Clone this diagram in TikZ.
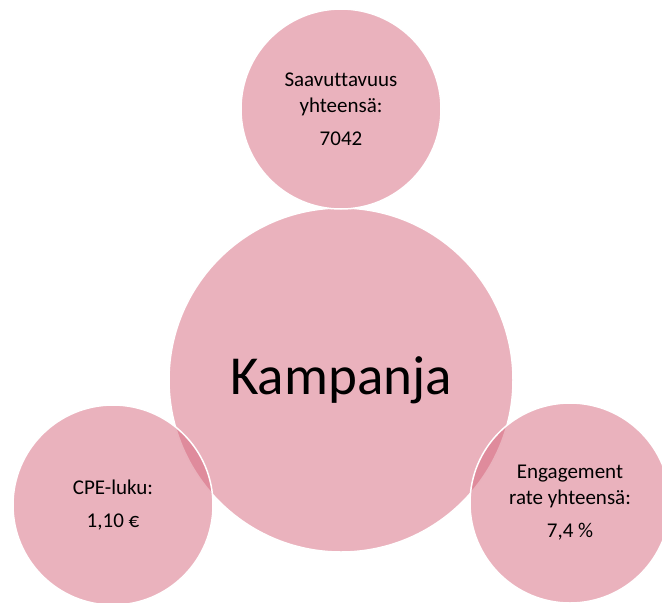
\documentclass[tikz,border=0pt]{standalone}
\usepackage{fontspec}
\setmainfont{Carlito}[Ligatures=NoCommon]
\definecolor{rosa}{RGB}{213,101,123}
\tikzset{
  bubble/.style={circle,inner sep=0pt,fill=rosa,fill opacity=.5,text opacity=1,
    draw=white,line width=1.5pt,align=center,text=black},
  small/.style={font=\fontsize{21}{26}\selectfont}
}

\begin{document}
\begin{tikzpicture}[x=1pt,y=-1pt]
\useasboundingbox (0,0) rectangle (662,603);
% keskimmainen ympyra
\node[bubble,minimum size=344pt,font=\fontsize{55}{60}\selectfont] (kampanja) at (341,380) {Kampanja};
% tulokset
\node[bubble,small,minimum size=200pt] (saavutus) at (341,109) {Saavuttavuus\\yhteensä:\\[7pt]7042};
\node[bubble,small,minimum size=200pt] (cpe) at (113,505) {CPE-luku:\\[7pt]1,10 €};
\node[bubble,small,minimum size=200pt] (engage) at (570,503) {Engagement\\rate yhteensä:\\[7pt]7,4 \%};
\end{tikzpicture}
\end{document}
